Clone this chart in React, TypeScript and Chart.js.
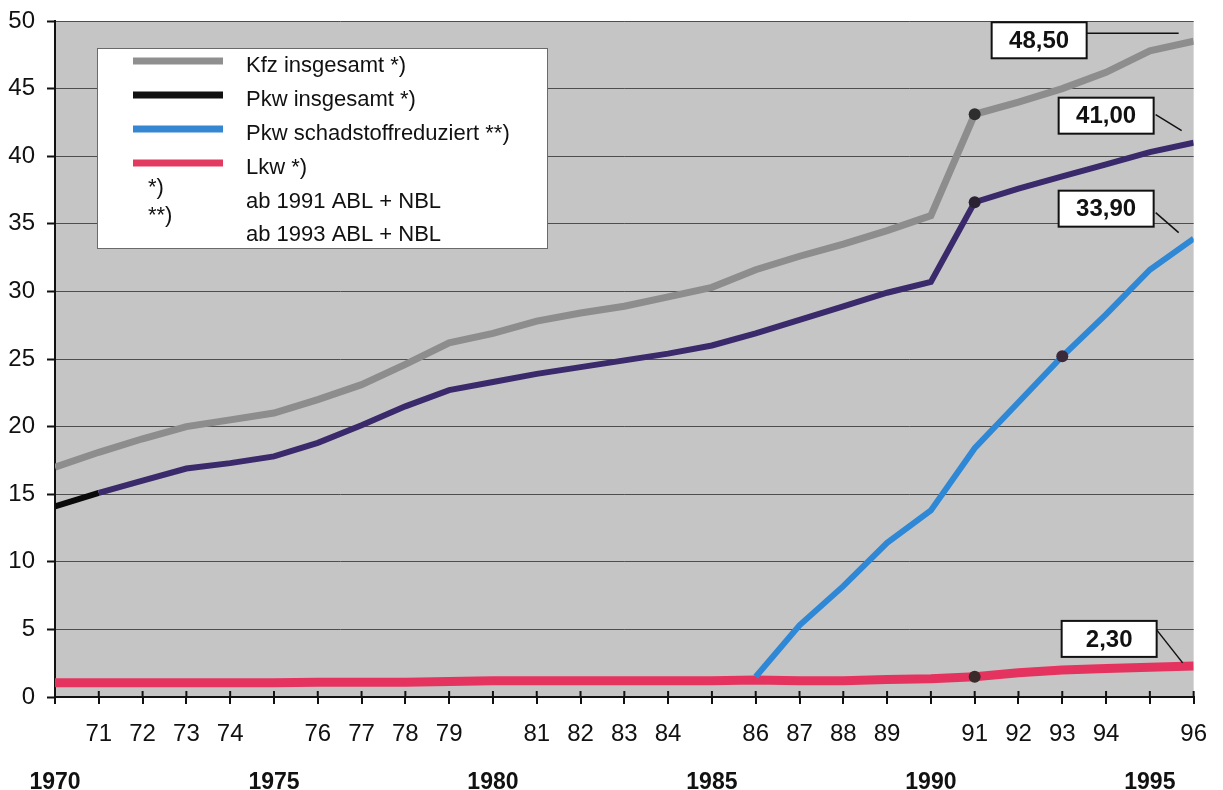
import React, { useEffect, useRef } from 'react';
import { Chart, registerables } from 'chart.js';

Chart.register(...registerables);

const FONT = '"Liberation Sans", Arial, Helvetica, sans-serif';

// ---- data ----
const years = [1970, 1971, 1972, 1973, 1974, 1975, 1976, 1977, 1978, 1979, 1980, 1981, 1982, 1983, 1984, 1985, 1986, 1987, 1988, 1989, 1990, 1991, 1992, 1993, 1994, 1995, 1996];
const shortLabels = ['', '71', '72', '73', '74', '', '76', '77', '78', '79', '', '81', '82', '83', '84', '', '86', '87', '88', '89', '', '91', '92', '93', '94', '', '96'];
const boldYears = [1970, 1975, 1980, 1985, 1990, 1995];
const yTicks = [0, 5, 10, 15, 20, 25, 30, 35, 40, 45, 50];

const kfz = [17.0, 18.1, 19.1, 20.0, 20.5, 21.0, 22.0, 23.1, 24.6, 26.2, 26.9, 27.8, 28.4, 28.9, 29.6, 30.3, 31.6, 32.6, 33.5, 34.5, 35.6, 43.1, 44.0, 45.0, 46.2, 47.8, 48.5];
const pkw = [14.1, 15.1, 16.0, 16.9, 17.3, 17.8, 18.8, 20.1, 21.5, 22.7, 23.3, 23.9, 24.4, 24.9, 25.4, 26.0, 26.9, 27.9, 28.9, 29.9, 30.7, 36.6, 37.6, 38.5, 39.4, 40.3, 41.0];
const schadYears = [1986, 1987, 1988, 1989, 1990, 1991, 1992, 1993, 1994, 1995, 1996];
const schad = [1.5, 5.3, 8.2, 11.4, 13.8, 18.4, 21.8, 25.2, 28.3, 31.6, 33.9];
const lkw = [1.05, 1.05, 1.05, 1.05, 1.05, 1.05, 1.1, 1.1, 1.1, 1.15, 1.2, 1.2, 1.2, 1.2, 1.2, 1.2, 1.25, 1.2, 1.2, 1.3, 1.35, 1.5, 1.8, 2.0, 2.1, 2.2, 2.3];

const kfzMarkers = [1991];
const pkwMarkers = [1991];
const schadMarkers = [1993];
const lkwMarkers = [1991];

const seriesNames = ['Kfz insgesamt *)', 'Pkw insgesamt *)', 'Pkw schadstoffreduziert **)', 'Lkw *)'];
const footnoteMarks = ['*)', '**)'];
const footnoteTexts = ['ab 1991 ABL + NBL', 'ab 1993 ABL + NBL'];

// ---- styles ----
const lineColors = ['#8d8d8d', '#3a2a6c', '#2f88d6', '#e5335f'];
const legendColors = ['#8f8f8f', '#111111', '#3587d2', '#e33a60'];
const lineWidths = [7, 6, 6, 9];

// value label box placement relative to last point (style only)
const labelStyles = [
  { dx: -107, dy: -1, lead: { sx: 0, sy: -7, ex: -15, ey: -8 } },
  { dx: -40, dy: -27, lead: { sx: 2, sy: -1, ex: -12, ey: -12 } },
  { dx: -40, dy: -30, lead: { sx: 2, sy: 4, ex: -15, ey: -6 } },
  { dx: -37, dy: -27, lead: { sx: 0, sy: -9, ex: -11, ey: -3 } },
];

const fmt = (v: number) => v.toFixed(2).replace('.', ',');

const bgPlugin = {
  id: 'plotBg',
  beforeDraw(chart: any) {
    const { ctx, chartArea: a } = chart;
    ctx.save();
    ctx.fillStyle = '#c5c5c5';
    ctx.fillRect(a.left, a.top, a.right - a.left, a.bottom - a.top);
    ctx.restore();
  },
};

const overlayPlugin = {
  id: 'overlay',
  afterDraw(chart: any) {
    const { ctx, chartArea: a } = chart;
    ctx.save();

    // small tick marks crossing the x axis upward
    const xs = chart.scales.x;
    ctx.strokeStyle = '#111';
    ctx.lineWidth = 2;
    years.forEach((yr) => {
      const px = xs.getPixelForValue(yr);
      ctx.beginPath();
      ctx.moveTo(px, a.bottom);
      ctx.lineTo(px, a.bottom - 6);
      ctx.stroke();
    });

    // legend box
    const bx = a.left + 42;
    const by = a.top + 27;
    const bw = 451;
    const bh = 201;
    ctx.fillStyle = '#ffffff';
    ctx.fillRect(bx, by, bw, bh);
    ctx.strokeStyle = '#6a6a6a';
    ctx.lineWidth = 1;
    ctx.strokeRect(bx + 0.5, by + 0.5, bw - 1, bh - 1);

    ctx.font = `22px ${FONT}`;
    ctx.fillStyle = '#111';
    ctx.textBaseline = 'middle';
    ctx.textAlign = 'left';
    const rowH = 34;
    seriesNames.forEach((name, i) => {
      const cy = by + 13 + i * rowH;
      ctx.strokeStyle = legendColors[i];
      ctx.lineWidth = 7;
      ctx.beginPath();
      ctx.moveTo(bx + 36, cy);
      ctx.lineTo(bx + 126, cy);
      ctx.stroke();
      ctx.fillText(name, bx + 149, cy + 5);
    });
    footnoteTexts.forEach((t, i) => {
      ctx.fillText(t, bx + 149, by + 154 + i * 33);
    });
    footnoteMarks.forEach((m, i) => {
      ctx.fillText(m, bx + 51, by + 140 + i * 28);
    });

    // value labels
    chart.data.datasets.forEach((ds: any, i: number) => {
      const meta = chart.getDatasetMeta(i);
      const pt = meta.data[meta.data.length - 1];
      const val = ds.data[ds.data.length - 1].y;
      const st = labelStyles[i];
      const w = 95;
      const h = 36;
      const right = pt.x + st.dx;
      const cy = pt.y + st.dy;
      const left = right - w;
      const top = cy - h / 2;
      ctx.strokeStyle = '#111';
      ctx.lineWidth = 1.5;
      ctx.beginPath();
      ctx.moveTo(right + st.lead.sx, cy + st.lead.sy);
      ctx.lineTo(pt.x + st.lead.ex, pt.y + st.lead.ey);
      ctx.stroke();
      ctx.fillStyle = '#ffffff';
      ctx.fillRect(left, top, w, h);
      ctx.lineWidth = 2;
      ctx.strokeRect(left, top, w, h);
      ctx.fillStyle = '#111';
      ctx.font = `bold 24px ${FONT}`;
      ctx.textAlign = 'center';
      ctx.textBaseline = 'middle';
      ctx.fillText(fmt(val), left + w / 2, cy + 1);
    });
    ctx.restore();
  },
};

const markerRadius = (marks: number[]) => (c: any) => (c.raw && marks.includes(c.raw.x) ? 6 : 0);

export default function App() {
  const canvasRef = useRef<HTMLCanvasElement | null>(null);

  useEffect(() => {
    const canvas = canvasRef.current;
    if (!canvas) return;
    const chart = new Chart(canvas, {
      type: 'line',
      data: {
        datasets: [
          {
            label: seriesNames[0],
            data: years.map((x, i) => ({ x, y: kfz[i] })),
            borderColor: lineColors[0],
            borderWidth: lineWidths[0],
            pointRadius: markerRadius(kfzMarkers),
            pointBackgroundColor: '#2e2e2e',
            pointBorderWidth: 0,
            tension: 0,
          },
          {
            label: seriesNames[1],
            data: years.map((x, i) => ({ x, y: pkw[i] })),
            borderColor: lineColors[1],
            borderWidth: lineWidths[1],
            segment: {
              borderColor: (c: any) => (c.p0DataIndex === 0 ? '#0a0a0a' : undefined),
            },
            pointRadius: markerRadius(pkwMarkers),
            pointBackgroundColor: '#2a2232',
            pointBorderWidth: 0,
            tension: 0,
          },
          {
            label: seriesNames[2],
            data: schadYears.map((x, i) => ({ x, y: schad[i] })),
            borderColor: lineColors[2],
            borderWidth: lineWidths[2],
            pointRadius: markerRadius(schadMarkers),
            pointBackgroundColor: '#3a2a3a',
            pointBorderWidth: 0,
            tension: 0,
          },
          {
            label: seriesNames[3],
            data: years.map((x, i) => ({ x, y: lkw[i] })),
            borderColor: lineColors[3],
            borderWidth: lineWidths[3],
            pointRadius: markerRadius(lkwMarkers),
            pointBackgroundColor: '#3a2a2a',
            pointBorderWidth: 0,
            tension: 0,
          },
        ],
      },
      options: {
        animation: false,
        responsive: false,
        maintainAspectRatio: false,
        layout: { padding: { top: 21, right: 25, left: 0, bottom: 0 } },
        plugins: { legend: { display: false }, tooltip: { enabled: false } },
        scales: {
          x: {
            type: 'linear',
            position: 'bottom',
            weight: 0,
            min: 1970,
            max: 1996,
            afterBuildTicks: (s: any) => {
              s.ticks = years.map((v) => ({ value: v }));
            },
            afterFit: (s: any) => {
              s.height = 60;
            },
            grid: { drawOnChartArea: false, drawTicks: true, tickLength: 7, color: '#111', lineWidth: 2 },
            border: { display: true, color: '#111', width: 2 },
            ticks: {
              autoSkip: false,
              maxRotation: 0,
              padding: 16,
              color: '#111',
              font: { family: FONT, size: 24 },
              callback: (v: any) => shortLabels[years.indexOf(Number(v))] ?? '',
            },
          },
          x2: {
            type: 'linear',
            position: 'bottom',
            weight: 1,
            min: 1970,
            max: 1996,
            afterBuildTicks: (s: any) => {
              s.ticks = boldYears.map((v) => ({ value: v }));
            },
            afterFit: (s: any) => {
              s.height = 33;
            },
            grid: { display: false },
            border: { display: false },
            ticks: {
              autoSkip: false,
              maxRotation: 0,
              padding: 4,
              color: '#111',
              font: { family: FONT, size: 23, weight: 'bold' },
              callback: (v: any) => String(v),
            },
          },
          y: {
            type: 'linear',
            min: 0,
            max: 50,
            afterBuildTicks: (s: any) => {
              s.ticks = yTicks.map((v) => ({ value: v }));
            },
            afterFit: (s: any) => {
              s.width = 55;
              s.paddingTop = 0;
              s.paddingBottom = 0;
            },
            grid: { color: '#4e4e4e', lineWidth: 1, drawTicks: true, tickLength: 8, tickColor: '#111', tickWidth: 2 },
            border: { display: true, color: '#111', width: 2 },
            ticks: {
              padding: 12,
              color: '#111',
              font: { family: FONT, size: 24 },
              callback: (v: any) => String(v),
            },
          },
        },
      } as any,
      plugins: [bgPlugin, overlayPlugin],
    });
    return () => chart.destroy();
  }, []);

  return (
    <div style={{ position: 'absolute', left: 0, top: 0, width: 1223, height: 790, background: '#ffffff' }}>
      <canvas ref={canvasRef} width={1223} height={790} style={{ display: 'block', width: 1223, height: 790 }} />
    </div>
  );
}
